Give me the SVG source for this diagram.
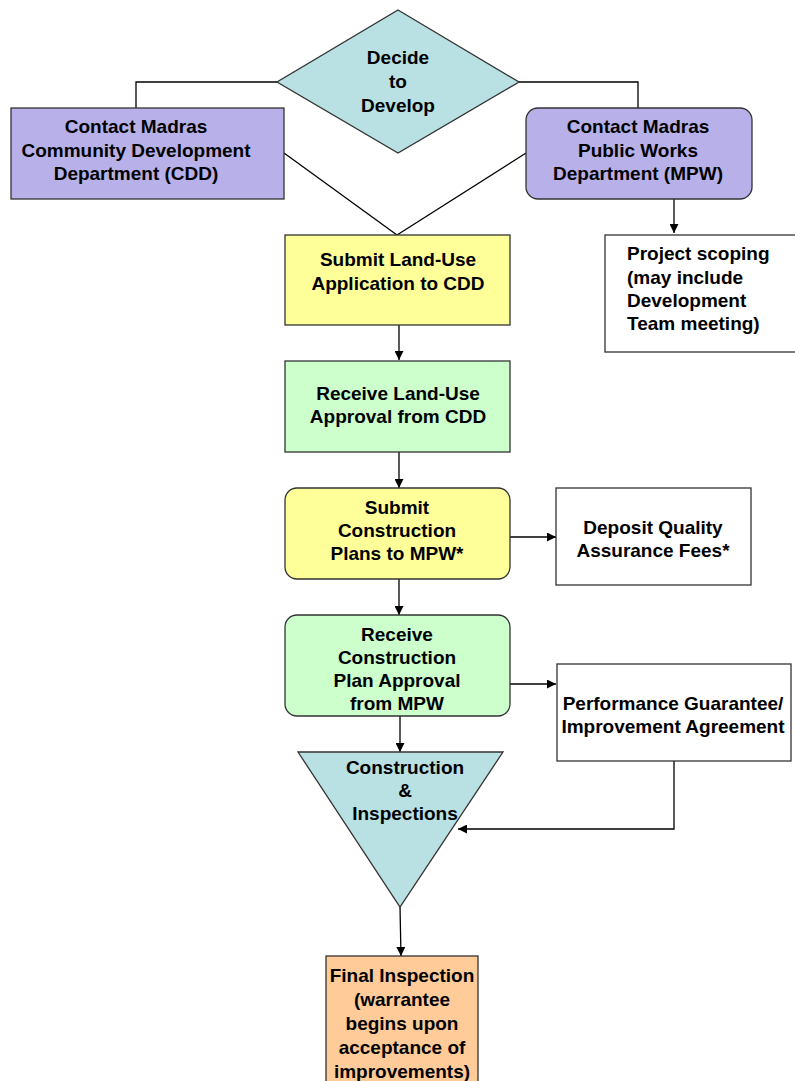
<svg xmlns="http://www.w3.org/2000/svg" width="795" height="1081" viewBox="0 0 795 1081">
<style>
text{font-family:"Liberation Sans",Arial,sans-serif;font-weight:bold;font-size:19px;fill:#000;text-anchor:middle}
.s{stroke:#333;stroke-width:1.3}
.c{stroke:#000;stroke-width:1.3;fill:none}
</style>
<defs>
<marker id="a" viewBox="0 0 10 10" refX="10" refY="5" markerWidth="9" markerHeight="9" markerUnits="userSpaceOnUse" orient="auto"><path d="M0,0 L10,5 L0,10 z" fill="#000"/></marker>
</defs>
<rect width="795" height="1081" fill="#fff"/>
<g id="connectors">
<polyline class="c" points="277,82 136,82 136,108"/>
<polyline class="c" points="519,82 638,82 638,108"/>
<polyline class="c" points="284,153 397,235 526,153"/>
<line class="c" x1="674" y1="199" x2="674" y2="233" marker-end="url(#a)"/>
<line class="c" x1="399" y1="325" x2="399" y2="360" marker-end="url(#a)"/>
<line class="c" x1="399" y1="452" x2="399" y2="488" marker-end="url(#a)"/>
<line class="c" x1="510" y1="537" x2="556" y2="537" marker-end="url(#a)"/>
<line class="c" x1="399" y1="579" x2="399" y2="615" marker-end="url(#a)"/>
<line class="c" x1="510" y1="684" x2="556" y2="684" marker-end="url(#a)"/>
<line class="c" x1="400" y1="716" x2="400" y2="752" marker-end="url(#a)"/>
<polyline class="c" points="674,761 674,829 458,829" marker-end="url(#a)"/>
<line class="c" x1="400" y1="907" x2="401" y2="956" marker-end="url(#a)"/>
</g>
<g id="decide">
<polygon class="s" points="398,10 519,82 398,153 277,82" fill="#b9e0e3"/>
<text x="398" y="64">Decide</text>
<text x="398" y="88">to</text>
<text x="398" y="112">Develop</text>
</g>
<g id="cdd">
<rect class="s" x="11" y="108" width="273" height="91" fill="#b8b0e8"/>
<text x="136" y="133">Contact Madras</text>
<text x="136" y="157">Community Development</text>
<text x="136" y="180">Department (CDD)</text>
</g>
<g id="mpw">
<rect class="s" x="526" y="108" width="226" height="91" rx="12" fill="#b8b0e8"/>
<text x="638" y="133">Contact Madras</text>
<text x="638" y="157">Public Works</text>
<text x="638" y="180">Department (MPW)</text>
</g>
<g id="scoping">
<rect class="s" x="605" y="235" width="195" height="117" fill="#fff"/>
<text x="627" y="260" style="text-anchor:start">Project scoping</text>
<text x="627" y="284" style="text-anchor:start">(may include</text>
<text x="627" y="307" style="text-anchor:start">Development</text>
<text x="627" y="330" style="text-anchor:start">Team meeting)</text>
</g>
<g id="submit-landuse">
<rect class="s" x="285" y="235" width="225" height="90" fill="#ffff99"/>
<text x="398" y="266">Submit Land-Use</text>
<text x="398" y="290">Application to CDD</text>
</g>
<g id="receive-landuse">
<rect class="s" x="285" y="361" width="225" height="91" fill="#ccffcc"/>
<text x="398" y="400">Receive Land-Use</text>
<text x="398" y="423">Approval from CDD</text>
</g>
<g id="submit-construction">
<rect class="s" x="285" y="488" width="225" height="91" rx="12" fill="#ffff99"/>
<text x="397" y="514">Submit</text>
<text x="397" y="537">Construction</text>
<text x="397" y="560">Plans to MPW*</text>
</g>
<g id="deposit">
<rect class="s" x="556" y="488" width="195" height="97" fill="#fff"/>
<text x="653" y="534">Deposit Quality</text>
<text x="653" y="557">Assurance Fees*</text>
</g>
<g id="receive-construction">
<rect class="s" x="285" y="615" width="225" height="101" rx="12" fill="#ccffcc"/>
<text x="397" y="641">Receive</text>
<text x="397" y="664">Construction</text>
<text x="397" y="687">Plan Approval</text>
<text x="397" y="710">from MPW</text>
</g>
<g id="performance">
<rect class="s" x="557" y="664" width="234" height="97" fill="#fff"/>
<text x="673" y="710">Performance Guarantee/</text>
<text x="673" y="733">Improvement Agreement</text>
</g>
<g id="construction">
<polygon class="s" points="298,752 503,752 400,907" fill="#b9e0e3"/>
<text x="405" y="774">Construction</text>
<text x="405" y="797">&amp;</text>
<text x="405" y="820">Inspections</text>
</g>
<g id="final">
<rect class="s" x="326" y="956" width="152" height="130" fill="#ffcc99"/>
<text x="402" y="982">Final Inspection</text>
<text x="402" y="1006">(warrantee</text>
<text x="402" y="1030">begins upon</text>
<text x="402" y="1054">acceptance of</text>
<text x="402" y="1078">improvements)</text>
</g>
</svg>
